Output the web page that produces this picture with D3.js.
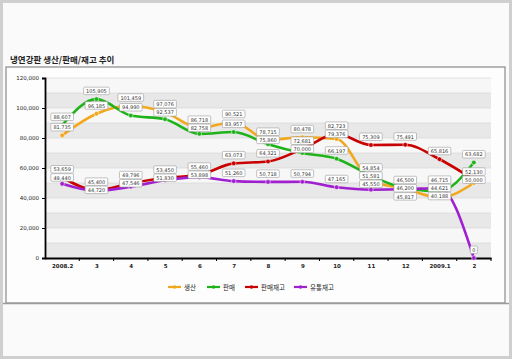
<!DOCTYPE html>
<html><head><meta charset="utf-8">
<script src="https://cdn.jsdelivr.net/npm/d3@7"></script>
<style>body{margin:0;background:#fff}svg{display:block}</style>
</head><body>
<svg id="c" width="512" height="359"></svg>
<script>
const title = "냉연강판 생산/판매/재고 추이";
const categories = ["2008.2","3","4","5","6","7","8","9","10","11","12","2009.1","2"];
const seriesNames = ["생산","판매","판매재고","유통재고"];
const production = [81735,96185,101459,97076,86718,90521,78715,80478,79376,51581,46200,40188,50000];
const sales      = [88607,105905,94990,92537,82758,83957,75860,70000,66197,54854,46500,44621,63682];
const salesStock = [53659,45400,49796,53450,55460,63073,64321,72681,82723,75309,75491,65816,52130];
const distStock  = [49440,44720,47546,51830,53898,51260,50718,50794,47165,45550,45817,46715,0];
const yTicks = [0,20000,40000,60000,80000,100000,120000];
const colors = ["#f2a81d","#1fb31a","#c80000","#a020d0"];
const allSeries = [production, sales, salesStock, distStock];

(function(){
const svg = d3.select("#c");
svg.append("rect").attr("x",1.5).attr("y",1.5).attr("width",509).attr("height",356)
  .attr("fill","#fafafa").attr("stroke","#cfcfcf").attr("stroke-width",3);
svg.append("rect").attr("x",6).attr("y",67).attr("width",499).attr("height",236)
  .attr("fill","#fdfdfd").attr("stroke","#8a8a8a").attr("stroke-width",1.2);
svg.append("text").attr("x",10).attr("y",63).text(title)
  .attr("font-family","Noto Sans CJK KR").attr("font-size",8.5).attr("font-weight","bold").attr("fill","#222");

const pL=45, pR=491, pT=78, pB=258;
const x = d3.scalePoint().domain(categories).range([pL,pR]).padding(0.5);
const xb = d3.scaleBand().domain(categories).range([pL,pR]);
const y = d3.scaleLinear().domain([0,120000]).range([pB,pT]);

const bands = d3.range(0,120000,10000);
svg.append("g").selectAll("rect").data(bands).join("rect")
  .attr("x",pL).attr("width",pR-pL)
  .attr("y",d=>y(d+10000)).attr("height",d=>y(d)-y(d+10000))
  .attr("fill",(d,i)=> i%2===0 ? "#e8e8e8" : "#f7f7f7");
svg.append("g").selectAll("line").data(d3.range(10000,130000,10000)).join("line")
  .attr("x1",pL).attr("x2",pR).attr("y1",d=>y(d)).attr("y2",d=>y(d))
  .attr("stroke","#d4d4d4").attr("stroke-width",0.6);

const yAxis = d3.axisLeft(y).tickValues(yTicks).tickFormat(d3.format(",")).tickSize(3);
const gy = svg.append("g").attr("transform",`translate(${pL},0)`).call(yAxis);
gy.select(".domain").attr("stroke","#000").attr("stroke-width",1.8);
gy.selectAll("text").attr("font-family","DejaVu Sans").attr("font-size",5.5).attr("fill","#222");
const xAxis = d3.axisBottom(x).tickSize(0).tickPadding(6);
const gx = svg.append("g").attr("transform",`translate(0,${pB})`).call(xAxis);
gx.select(".domain").attr("stroke","#000").attr("stroke-width",1.8);
gx.selectAll("text").attr("font-family","DejaVu Sans").attr("font-size",5.5).attr("font-weight","bold").attr("fill","#222");
svg.append("g").selectAll("line").data(categories).join("line")
  .attr("x1",(d,i)=>pL+xb.step()*(i+1)).attr("x2",(d,i)=>pL+xb.step()*(i+1))
  .attr("y1",pB).attr("y2",pB+3).attr("stroke","#000").attr("stroke-width",1);

const line = d3.line().x((d,i)=>x(categories[i])).y(d=>y(d)).curve(d3.curveMonotoneX);
allSeries.forEach((s,si)=>{
  svg.append("path").datum(s).attr("d",line).attr("fill","none")
    .attr("stroke",colors[si]).attr("stroke-width",2.6).attr("stroke-linejoin","round");
});
allSeries.forEach((s,si)=>{
  svg.append("g").selectAll("circle").data(s).join("circle")
    .attr("cx",(d,i)=>x(categories[i])).attr("cy",d=>y(d)).attr("r",2.3)
    .attr("fill",colors[si]).attr("stroke","#fff").attr("stroke-width",0.5);
});

// labels with simple vertical de-overlap per category
const fmt = d3.format(",");
const lg = svg.append("g");
const H = 7.5, gap = 8.2;
categories.forEach((c,i)=>{
  const items = allSeries.map((s,si)=>({v:s[i], si, ty:y(s[i])-8})).sort((a,b)=>a.ty-b.ty);
  for(let k=1;k<items.length;k++){
    if(items[k].ty < items[k-1].ty + gap) items[k].ty = items[k-1].ty + gap;
  }
  items.forEach(it=>{
    const cx = x(c), t = fmt(it.v), w = t.length*3.1+4;
    const g = lg.append("g").attr("transform",`translate(${cx},${it.ty})`);
    g.append("rect").attr("x",-w/2).attr("y",-4).attr("width",w).attr("height",H)
      .attr("fill","#fff").attr("stroke","#9a9a9a").attr("stroke-width",0.6).attr("rx",1);
    g.append("text").attr("y",1.9).attr("text-anchor","middle").text(t)
      .attr("font-family","DejaVu Sans").attr("font-size",5).attr("fill","#333");
  });
});

const legX = [168,207,245,294];
seriesNames.forEach((n,i)=>{
  const g = svg.append("g").attr("transform",`translate(${legX[i]},287)`);
  g.append("line").attr("x1",0).attr("x2",13).attr("stroke",colors[i]).attr("stroke-width",2.2);
  g.append("circle").attr("cx",6.5).attr("r",1.8).attr("fill",colors[i]);
  g.append("text").attr("x",16).attr("y",2.5).text(n)
    .attr("font-family","Noto Sans CJK KR").attr("font-size",6.5).attr("fill","#222");
});
svg.append("line").attr("x1",3).attr("x2",509).attr("y1",303.5).attr("y2",303.5).attr("stroke","#9a9a9a").attr("stroke-width",1.5);
})();
</script>
</body></html>
